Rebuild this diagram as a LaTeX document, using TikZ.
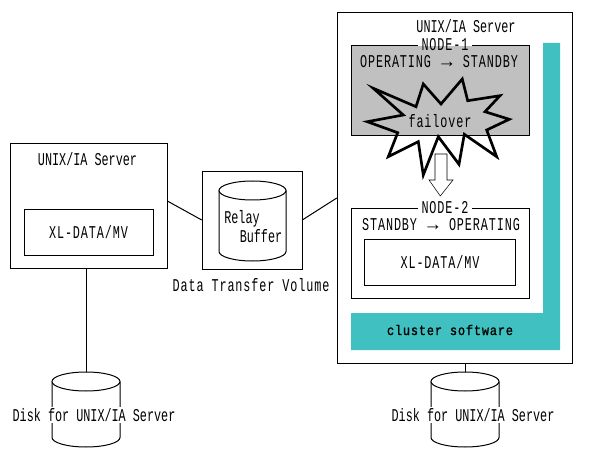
\documentclass[tikz,border=0pt]{standalone}
\usepackage{fontspec}
\usetikzlibrary{fit}
\setmainfont{Liberation Sans}
\newfontfamily\narrowmono[FakeStretch=0.655]{Liberation Mono}
\newfontfamily\widemono[FakeStretch=0.655,LetterSpace=5]{Liberation Mono}
\newfontfamily\boldmono[FakeStretch=0.85,LetterSpace=6,FakeBold=1.2]{Liberation Mono}
\newfontfamily\arrowfont{Liberation Sans}
\definecolor{tealbar}{RGB}{64,192,192}
\definecolor{graybox}{RGB}{192,192,192}
\newcommand{\txtarrow}{\makebox[12pt]{\arrowfont\fontsize{14pt}{14pt}\selectfont\smash{→}}}
\newcommand{\diskbody}[4]{% x1, x2, ytop, ybottom
  \pgfmathsetmacro{\dcx}{(#1+#2)/2}
  \pgfmathsetmacro{\drx}{(#2-#1)/2}
  \draw[wire,fill=white] (#1,#3+9.5) -- (#1,#4-9.5) arc[start angle=180,end angle=0,x radius=\drx,y radius=9.5] -- (#2,#3+9.5);
  \draw[wire,fill=white] (\dcx,#3+9.5) ellipse [x radius=\drx,y radius=9.5];
}
\tikzset{
  x=0.75pt,y=-0.75pt,
  line width=0.75pt,
  box/.style={draw=black,fill=white,inner sep=0pt,rectangle},
  dbox/.style={box,fill=graybox},
  ghost/.style={inner sep=0pt,rectangle},
  tn/.style={inner sep=0pt,font=\narrowmono\fontsize{13.5pt}{15pt}\selectfont},
  tw/.style={inner sep=0pt,font=\widemono\fontsize{13.5pt}{15pt}\selectfont},
  twb/.style={inner sep=0pt,font=\boldmono\fontsize{10.5pt}{14pt}\selectfont},
  mask/.style={tn,fill=white,inner ysep=1pt,inner xsep=0pt},
  wire/.style={draw=black,line width=0.75pt},
}
\begin{document}
\begin{tikzpicture}
\useasboundingbox (0,0) rectangle (590,460);
% right server
\node[box,fit={(337,12)(572,363)}] (rsrv) {};
\fill[tealbar] (543,43) -- (560,43) -- (560,350) -- (351,350) -- (351,313) -- (543,313) -- cycle;
\node[twb] (cluster) at (450,330) {cluster software};
\node[tn] (rtitle) at (466,26.5) {UNIX/IA Server};
% node 1
\node[dbox,fit={(351,45)(529,135)}] (n1) {};
\fill[white] (418,44) rectangle (472,46);
\node[tw] (n1t) at (445,44.5) {NODE-1};
\node[tw] (n1s) at (439,62) {OPERATING \txtarrow\ STANDBY};
% star
\draw[line width=2pt,miter limit=10]
 (373.3,88.3) -- (416,106.7) -- (423.3,84) -- (441,104) -- (462.3,79) -- (467.7,100.7)
 -- (500,95.7) -- (485,111.7) -- (509.3,119.3) -- (486.7,130) -- (496.7,156.7)
 -- (464.3,134.3) -- (459,164.3) -- (438.3,136.7) -- (423.3,175) -- (418.3,141.7)
 -- (388.3,156.7) -- (397.7,132.7) -- (367.3,121.7) -- (403.3,115) -- cycle;
\node[tw] (fo) at (440,121.5) {failover};
% block arrow
\draw[fill=white] (435,154) -- (447,154) -- (447,180) -- (453,180) -- (440.3,196) -- (429,180) -- (435,180) -- cycle;
% node 2
\node[box,fit={(351,208)(529,298)}] (n2) {};
\fill[white] (418,207) rectangle (472,209);
\node[tw] (n2t) at (445,207.5) {NODE-2};
\node[tw] (n2s) at (441,224.5) {STANDBY \txtarrow\ OPERATING};
\node[box,fit={(364,239)(515,285)}] (rxl) {};
\node[tw] (rxlt) at (440,262) {XL-DATA/MV};
% left server
\node[box,fit={(10,143)(167,268)}] (lsrv) {};
\node[tn] (ltitle) at (87.5,159.5) {UNIX/IA Server};
\node[box,fit={(24,209)(153,255)}] (lxl) {};
\node[tw] (lxlt) at (88.5,232.5) {XL-DATA/MV};
% relay
\node[box,fit={(202,171)(302,269)}] (relay) {};
\node[ghost,fit={(219,181)(286,261)}] (rcyl) {};
\diskbody{219}{286}{181}{261}
\node[tn] (relay1) at (242,219) {Relay};
\node[tn] (relay2) at (261,236) {Buffer};
\node[tw] (dtv) at (251,285) {Data Transfer Volume};
% disks
\node[ghost,fit={(52,372)(120,447)}] (ldisk) {};
\node[ghost,fit={(431,372)(499,447)}] (rdisk) {};
\diskbody{52}{120}{372}{447}
\diskbody{431}{499}{372}{447}
\node[mask] (ldt) at (94,415) {Disk for UNIX/IA Server};
\node[mask] (rdt) at (473,415) {Disk for UNIX/IA Server};
% connectors
\draw[wire] ([yshift=3.4pt]lsrv.east) -- (relay.west);
\draw[wire] (relay.east) -- ([yshift=-7.9pt]rsrv.west);
\draw[wire] (lsrv.south -| ldisk.north) -- (ldisk.north);
\draw[wire] (rsrv.south -| rdisk.north) -- (rdisk.north);
\end{tikzpicture}
\end{document}
